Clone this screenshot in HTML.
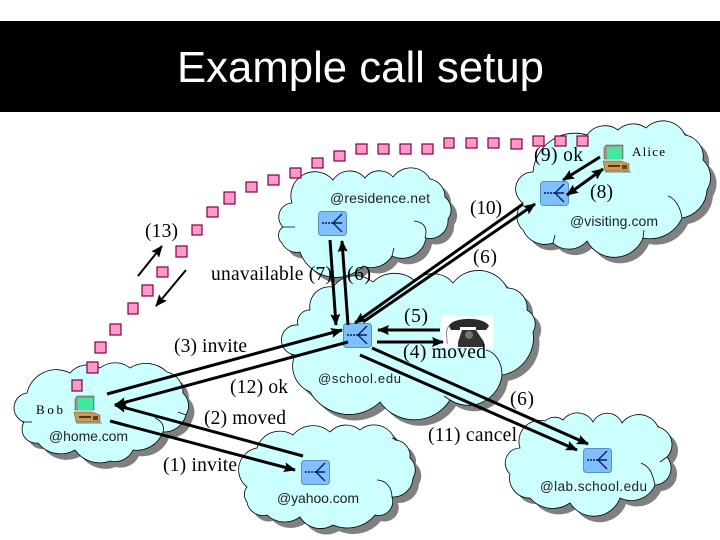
<!DOCTYPE html>
<html><head><meta charset="utf-8"><style>html,body{margin:0;padding:0;background:#fff}svg{display:block}
.s{font-family:"Liberation Serif",serif;font-size:19.5px;fill:#000}
.a{font-family:"Liberation Sans",sans-serif;font-size:14px;fill:#222}
.cl{fill:#ccffff;stroke:#000;stroke-width:.8}
.sh{fill:#808080}
.l{stroke:#000;fill:none}
.sq{fill:#ff99cc;stroke:#800040;stroke-width:1.2}
.srv{fill:#80bfff;stroke:#5a8fc0;stroke-width:1}
</style></head><body>
<svg width="720" height="540" viewBox="0 0 720 540" xmlns="http://www.w3.org/2000/svg">
<defs>
<marker id="h" markerUnits="userSpaceOnUse" markerWidth="12" markerHeight="10" refX="11" refY="5" orient="auto-start-reverse"><path d="M0 0L12 5L0 10L2 5Z" fill="#000"/></marker>
<path id="home" d="M27 393A30 30 0 0 1 70 373A24 24 0 0 1 100 368A24 24 0 0 1 130 368A30 30 0 0 1 167 372A21 21 0 0 1 183 393A18 18 0 0 1 186 415A23 23 0 0 1 163 432A28 28 0 0 1 133 450A20 20 0 0 1 110 461A30 30 0 0 1 75 450A29 29 0 0 1 38 443A14 14 0 0 1 24 422A15 15 0 0 1 27 393Z"/>
<path id="res" d="M292 203A24 24 0 0 1 333 180A20 20 0 0 1 365 178A18 18 0 0 1 393 177A22 22 0 0 1 430 179A18 18 0 0 1 445 197A16 16 0 0 1 448 219A18 18 0 0 1 426 238A24 24 0 0 1 392 256A24 24 0 0 1 363 266A38 38 0 0 1 300 252A16 16 0 0 1 282 243A10 10 0 0 1 283 227A14 14 0 0 1 292 203Z"/>
<path id="vis" d="M523 203A17 17 0 0 1 533 172A42 42 0 0 1 587 135A22 22 0 0 1 618 130A22 22 0 0 1 646 128A24 24 0 0 1 685 135A22 22 0 0 1 703 160A24 24 0 0 1 707 190A30 30 0 0 1 682 218A35 35 0 0 1 643 238A31 31 0 0 1 587 241A24 24 0 0 1 553 243A24 24 0 0 1 523 230A18 18 0 0 1 523 203Z"/>
<path id="sch" d="M298 325A12 12 0 0 1 310 310A20 20 0 0 1 333 287A28 28 0 0 1 373 282A31 31 0 0 1 415 281A26 26 0 0 1 453 283A32 32 0 0 1 507 288A20 20 0 0 1 527 310A16 16 0 0 1 533 332A38 38 0 0 1 502 375A34 34 0 0 1 450 400A42 42 0 0 1 380 402A45 45 0 0 1 310 392A28 28 0 0 1 295 355A14 14 0 0 1 298 325Z"/>
<path id="yah" d="M247 487A22 22 0 0 1 257 448A24 24 0 0 1 293 435A26 26 0 0 1 330 432A22 22 0 0 1 360 430A22 22 0 0 1 395 440A16 16 0 0 1 410 458A16 16 0 0 1 413 478A20 20 0 0 1 392 497A14 14 0 0 1 375 515A36 36 0 0 1 333 525A24 24 0 0 1 300 517A26 26 0 0 1 267 515A16 16 0 0 1 247 502A12 12 0 0 1 247 487Z"/>
<path id="lab" d="M510 474A15 15 0 0 1 520 448A21 21 0 0 1 545 421A14 14 0 0 1 563 420A18 18 0 0 1 593 422A16 16 0 0 1 622 423A21 21 0 0 1 658 427A18 18 0 0 1 667 457A17 17 0 0 1 655 485A26 26 0 0 1 620 498A28 28 0 0 1 570 503A30 30 0 0 1 530 498A20 20 0 0 1 510 474Z"/>
<g id="srv"><rect class="srv" x="0.5" y="0.5" width="28" height="24" rx="3"/><path d="M4 12H15" stroke="#00205a" stroke-width="1.5" stroke-dasharray="2 1" fill="none"/><path d="M24 3L15 12L24 21M15 12H24" stroke="#00205a" stroke-width="1.4" fill="none"/></g>
<g id="pc"><path d="M1 3L3 0H20V14H1Z" fill="#9a9a80" stroke="#444" stroke-width=".5"/><rect x="4" y="2" width="15" height="12" fill="#40e8a0"/><path d="M0 16H18L26 19V26H2Z" fill="#c89858" stroke="#553" stroke-width=".5"/><rect x="5" y="20" width="12" height="2" fill="#5b3010"/><rect x="19" y="20" width="5" height="4" fill="#6b3f18"/><path d="M2 27H28" stroke="#7a9a9a" stroke-width="1.2"/></g>
</defs>
<rect width="720" height="540" fill="#fff"/>
<rect x="0" y="21" width="720" height="91" fill="#000"/>
<text x="177" y="82" font-family="'Liberation Sans',sans-serif" font-size="44" fill="#fff" textLength="367" lengthAdjust="spacingAndGlyphs">Example call setup</text>

<g class="sh" transform="translate(6,6)"><use href="#home"/><use href="#res"/><use href="#vis"/><use href="#yah"/><use href="#lab"/><use href="#sch"/></g>
<g class="cl"><use href="#home"/></g>
<g class="cl"><use href="#res"/></g>
<g class="cl"><use href="#vis"/></g>
<g class="cl"><use href="#yah"/></g>
<g class="cl"><use href="#lab"/></g>
<g class="cl"><use href="#sch"/></g>
<path d="M283 227H295M425 238C428 228 424 222 414 221M392 256L394 248M682 218C680 205 674 198 668 196M643 238L644 230M553 243L555 235M502 375C502 360 494 352 486 350M450 400L444 396M655 485C652 470 648 466 641 463M667 457L660 462M377 480C386 480 392 488 392 497M397 440L392 438M163 432C165 425 160 420 155 418M186 415L178 412M24 422H32" fill="none" stroke="#000" stroke-width=".8"/>

<g class="sq">
<rect x="72" y="380" width="10" height="11"/><rect x="87" y="362" width="11" height="11"/><rect x="95" y="342" width="11" height="11"/><rect x="110" y="324" width="11" height="11"/><rect x="128" y="303" width="10" height="11"/><rect x="142" y="285" width="11" height="11"/><rect x="157" y="267" width="11" height="10"/><rect x="176" y="246" width="11" height="11"/><rect x="192" y="225" width="10" height="10"/><rect x="207" y="207" width="11" height="10"/><rect x="224" y="192" width="11" height="12"/><rect x="246" y="182" width="11" height="10"/><rect x="268" y="175" width="11" height="10"/><rect x="290" y="168" width="11" height="10"/><rect x="312" y="158" width="11" height="10"/><rect x="334" y="151" width="11" height="10"/><rect x="356" y="144" width="11" height="10"/><rect x="378" y="144" width="11" height="10"/><rect x="400" y="144" width="11" height="10"/><rect x="422" y="144" width="11" height="10"/><rect x="444" y="138" width="10" height="10"/><rect x="466" y="138" width="11" height="10"/><rect x="488" y="138" width="11" height="10"/><rect x="511" y="139" width="11" height="10"/><rect x="533" y="136" width="11" height="10"/><rect x="555" y="136" width="11" height="10"/><rect x="577" y="136" width="11" height="10"/>
</g>

<use href="#srv" x="318" y="211"/><use href="#srv" x="540" y="181"/><use href="#srv" x="343" y="323"/><use href="#srv" x="301" y="460"/><use href="#srv" x="583" y="448"/>
<use href="#pc" x="74" y="396"/><use href="#pc" x="603" y="145"/>

<g>
<rect x="441" y="316" width="52" height="32" fill="#fff"/>
<path d="M449 326C452 317 484 316 489 326L486 330H476V327H460V330H451Z" fill="#2a2a2a"/>
<path d="M462 330H476L484 342V347H458V342Z" fill="#333"/>
<circle cx="469" cy="335" r="4" fill="#777"/>
<path d="M449 326C444 332 448 338 447 344" fill="none" stroke="#888" stroke-width="1"/>
</g>

<text class="s" x="534" y="161" textLength="49">(9) ok</text>
<text class="s" x="632" y="156" style="font-size:13px" textLength="33">Alice</text>
<text class="s" x="590" y="198" textLength="23">(8)</text>
<text class="s" x="470" y="214" textLength="32">(10)</text>
<text class="a" x="570" y="226" textLength="88">@visiting.com</text>
<text class="a" x="330" y="203" textLength="100">@residence.net</text>
<text class="s" x="145" y="237" textLength="33">(13)</text>
<text class="s" x="211" y="280" textLength="121">unavailable (7)</text>
<text class="s" x="347" y="280" textLength="24">(6)</text>
<text class="s" x="473" y="263" textLength="24">(6)</text>
<text class="s" x="404" y="322" textLength="24">(5)</text>
<text class="s" x="174" y="352" textLength="73">(3) invite</text>
<text class="s" x="403" y="358" textLength="83">(4) moved</text>
<text class="s" x="230" y="393" textLength="58">(12) ok</text>
<text class="a" x="318" y="383" style="font-size:13px" textLength="83">@school.edu</text>
<text class="s" x="510" y="405" textLength="24">(6)</text>
<text class="s" x="204" y="424" textLength="82">(2) moved</text>
<text class="s" x="428" y="441" textLength="89">(11) cancel</text>
<text class="s" x="36" y="414" style="font-size:13px" textLength="27">Bob</text>
<text class="a" x="49" y="441" textLength="79">@home.com</text>
<text class="s" x="163" y="471" textLength="74">(1) invite</text>
<text class="a" x="277" y="503" textLength="82">@yahoo.com</text>
<text class="a" x="540" y="491" style="font-size:13.5px" textLength="107">@lab.school.edu</text>

<g class="l" stroke-width="2">
<path d="M138 276L162 246" marker-end="url(#h)"/>
<path d="M186 270L156 306" marker-end="url(#h)"/>
</g>
<g class="l" stroke-width="3">
<path d="M330 240L336 325" marker-end="url(#h)"/>
<path d="M348 325L342 241" marker-end="url(#h)"/>
<path d="M523 204L355 323" marker-end="url(#h)"/>
<path d="M363 322L535 204" marker-end="url(#h)"/>
<path d="M107 394L342 330" marker-end="url(#h)"/>
<path d="M348 342L115 405" marker-end="url(#h)"/>
<path d="M303 456L115 405" marker-end="url(#h)"/>
<path d="M110 421L295 470" marker-end="url(#h)"/>
<path d="M440 330L378 330" marker-end="url(#h)"/>
<path d="M377 342L443 342" marker-end="url(#h)"/>
<path d="M372 348L588 444" marker-end="url(#h)"/>
<path d="M360 355L577 450" marker-end="url(#h)"/>
<path d="M600 157L563 180" marker-end="url(#h)"/>
<path d="M567 195L603 169" marker-start="url(#h)" marker-end="url(#h)"/>
</g>
</svg>
</body></html>
